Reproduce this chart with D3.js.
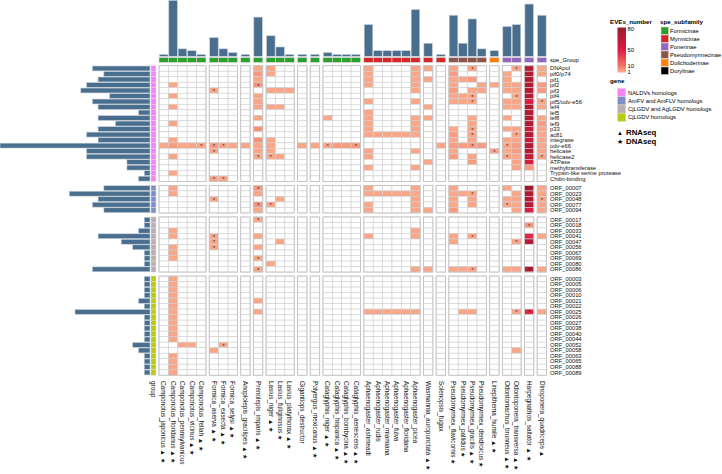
<!DOCTYPE html>
<html><head><meta charset="utf-8">
<script src="https://cdn.jsdelivr.net/npm/d3@7"></script>
<style>body{margin:0;background:#fff} svg{display:block;font-family:"Liberation Sans",Arial,sans-serif}</style>
</head><body><svg id="c" width="722" height="474"></svg>
<script>
// ---------------- DATA ----------------
const species = ["Camponotus_japonicus","Camponotus_floridanus","Camponotus_pennsylvanicus","Camponotus_vicinus","Camponotus_fellah",
 "Formica_aserva","Formica_exsecta","Formica_selysi","Anoplolepis_gracilipes","Prenolepis_imparis",
 "Lasius_niger","Lasius_fuliginosus","Lasius_platythorax","Gigantiops_destructor","Polyergus_mexicanus",
 "Cataglyphis_niger","Cataglyphis_hispanica","Cataglyphis_bombycina","Cataglyphis_aenescens",
 "Aphaenogaster_ashmeadi","Aphaenogaster_rudis","Aphaenogaster_miamiana","Aphaenogaster_fulva","Aphaenogaster_floridana","Aphaenogaster_picea",
 "Wasmannia_auropunctata","Solenopsis_fugax","Pseudomyrmex_flavicornis","Pseudomyrmex_pallidus","Pseudomyrmex_gracilis","Pseudomyrmex_dendroicus",
 "Linepithema_humile","Odontomachus_brunneus","Odontoponera_transversa","Harpegnathos_saltator","Dinoponera_quadriceps"];
const speciesMark = ["▲ ★","▲ ★","","▲ ★","▲ ★","▲ ★","▲ ★","▲ ★","▲ ★","▲ ★","▲ ★","★","▲ ★","","▲ ★",
 "▲ ★","▲ ★","▲ ★","▲ ★","","","","","","","▲ ★","","★","★","▲ ★","★","▲ ★","▲ ★","▲ ★","▲ ★","▲"];
const colSlice = [0,0,0,0,0,1,1,1,2,3,4,4,4,5,6,7,7,7,7,8,8,8,8,8,8,9,10,11,11,11,11,12,13,13,14,15];
const subfamily = ["Formicinae","Formicinae","Formicinae","Formicinae","Formicinae","Formicinae","Formicinae","Formicinae","Formicinae","Formicinae",
 "Formicinae","Formicinae","Formicinae","Formicinae","Formicinae","Formicinae","Formicinae","Formicinae","Formicinae",
 "Myrmicinae","Myrmicinae","Myrmicinae","Myrmicinae","Myrmicinae","Myrmicinae","Myrmicinae","Myrmicinae",
 "Pseudomyrmecinae","Pseudomyrmecinae","Pseudomyrmecinae","Pseudomyrmecinae","Dolichoderinae",
 "Ponerinae","Ponerinae","Ponerinae","Ponerinae"];
const speciesEVEs = [1,30,4,3,1,10,4,2,1,21,11,5,1,1,1,2,1,1,1,17,3,3,3,3,25,7,1,22,7,20,4,3,16,17,28,22];

const genes = ["DNApol","pif0/p74","pif1","pif2","pif3","pif4","pif5/odv-e56","lef4","lef5","lef8","lef9","p33","ac81","integrase","odv-e66","helicase","helicase2","ATPase","methyltransferase","Trypsin-like serine protease","Chitin-binding",
 "ORF_00007","ORF_00023","ORF_00048","ORF_00077","ORF_00094",
 "ORF_00017","ORF_00018","ORF_00033","ORF_00041","ORF_00047","ORF_00056","ORF_00067","ORF_00069","ORF_00080","ORF_00086",
 "ORF_00003","ORF_00005","ORF_00006","ORF_00010","ORF_00021","ORF_00022","ORF_00025","ORF_00026","ORF_00027","ORF_00038","ORF_00040","ORF_00044","ORF_00052","ORF_00058","ORF_00063","ORF_00065","ORF_00088","ORF_00089"];
const geneGroup = [].concat(Array(21).fill("NALDVs homologs"),Array(5).fill("AmFV and AmFLV homologs"),Array(10).fill("CjLGDV and AgLGDV homologs"),Array(18).fill("CjLGDV homologs"));
const geneSpecies = [10,8,9,11,12,7,10,9,2,9,6,9,11,9,26,11,11,4,4,1,2, 8,14,9,10,8, 1,1,2,9,5,3,1,1,1,10, 1,1,1,1,2,1,13,1,1,1,1,1,3,2,1,1,1,1];

// EVE numbers per gene (rows) x species (columns); 0 = none
//            Camponotus  Formica Ano Pre Lasius Gig Pol Catag.   Aphaenogaster  Was Sol Pseudomyrmex Lin Odo  Har Din
const eves = [
 /*DNApol*/  [0,0,0,0,0, 0,0,0, 0, 1, 1,0,0, 0, 0, 0,0,0,0, 1,0,0,0,0,1, 1, 0, 1,0,1,0, 0, 0,1, 70, 1],
 /*pif0*/    [0,0,0,0,0, 0,0,0, 0, 4, 1,0,0, 0, 0, 0,0,0,0, 1,0,0,0,0,1, 0, 0, 3,0,0,0, 0, 1,0, 70, 1],
 /*pif1*/    [0,0,0,0,0, 0,0,0, 0, 1, 0,0,0, 0, 0, 0,0,0,0, 1,0,0,0,0,1, 1, 0, 1,1,3,0, 0, 1,0, 70, 0],
 /*pif2*/    [0,1,0,0,0, 0,0,0, 0, 5, 0,0,0, 0, 0, 0,0,0,0, 1,0,0,0,0,1, 0, 0, 1,0,0,1, 1, 1,1, 70, 3],
 /*pif3*/    [0,0,0,0,0, 1,0,0, 0, 0, 1,1,1, 0, 0, 0,0,0,0, 0,0,0,0,0,1, 0, 0, 3,0,1,1, 0, 1,1, 70, 3],
 /*pif4*/    [0,1,0,0,0, 0,0,0, 0, 1, 0,0,0, 0, 0, 0,0,0,0, 0,0,0,0,0,0, 0, 0, 1,1,1,0, 0, 0,1, 70, 0],
 /*pif5*/    [0,0,0,0,0, 0,0,0, 0, 1, 0,0,0, 0, 0, 0,0,0,0, 1,0,0,0,0,1, 0, 0, 1,1,1,0, 0, 1,1, 50, 1],
 /*lef4*/    [0,1,0,0,0, 0,0,0, 0, 1, 1,1,0, 0, 0, 0,0,0,0, 0,0,0,0,0,0, 1, 0, 0,0,0,0, 0, 1,1, 70, 1],
 /*lef5*/    [0,0,0,0,0, 0,0,0, 0, 0, 0,0,0, 0, 0, 0,0,0,0, 1,0,0,0,0,0, 0, 0, 0,0,0,0, 0, 0,0, 70, 0],
 /*lef8*/    [0,0,0,0,0, 0,0,0, 0, 1, 0,0,0, 0, 0, 1,0,0,0, 1,0,0,0,0,1, 1, 0, 0,0,1,0, 0, 1,0, 70, 1],
 /*lef9*/    [0,1,0,0,0, 0,0,0, 0, 0, 0,0,0, 0, 0, 0,0,0,0, 1,0,0,0,0,1, 0, 0, 0,0,1,0, 0, 0,0, 70, 3],
 /*p33*/     [0,0,0,0,0, 0,0,0, 0, 5, 0,0,0, 0, 0, 0,0,0,0, 1,0,0,0,0,1, 0, 0, 1,0,1,0, 0, 1,1, 60, 1],
 /*ac81*/    [0,0,0,0,0, 0,0,0, 0, 0, 0,0,0, 0, 0, 0,0,0,0, 1,1,1,1,1,1, 0, 0, 3,0,1,0, 0, 0,1, 70, 1],
 /*integr*/  [0,1,0,0,0, 0,0,0, 0, 5, 1,0,0, 0, 0, 0,0,0,0, 0,0,0,0,0,0, 0, 0, 1,0,1,0, 0, 1,1, 60, 1],
 /*odv-e66*/ [1,3,1,1,1, 3,1,1, 1, 1, 1,0,0, 1, 1, 1,3,3,3, 0,0,0,0,0,0, 0, 1, 3,3,3,3, 0, 1,3, 70, 1],
 /*helic*/   [0,0,0,0,0, 1,0,0, 0, 1, 1,0,0, 0, 0, 0,0,0,0, 1,0,0,0,0,1, 0, 0, 1,0,0,0, 1, 1,3, 70, 1],
 /*helic2*/  [0,1,0,0,0, 0,0,0, 0, 1, 1,1,0, 0, 0, 0,0,0,0, 1,0,0,0,0,0, 0, 0, 3,0,1,0, 0, 1,1, 60, 1],
 /*ATPase*/  [0,0,0,0,0, 0,0,0, 0, 0, 0,0,0, 0, 0, 0,0,0,0, 0,0,0,0,0,0, 1, 0, 0,0,3,0, 0, 0,1, 50, 0],
 /*methyl*/  [0,0,0,0,0, 0,0,0, 0, 0, 0,0,0, 0, 0, 0,0,0,0, 1,0,0,0,0,1, 0, 0, 0,0,0,0, 0, 0,1, 3, 0],
 /*Trypsin*/ [0,1,0,0,0, 0,0,0, 0, 0, 0,0,0, 0, 0, 0,0,0,0, 0,0,0,0,0,0, 0, 0, 0,0,0,0, 0, 0,0, 0, 0],
 /*Chitin*/  [0,0,0,0,0, 1,1,0, 0, 0, 0,0,0, 0, 0, 0,0,0,0, 0,0,0,0,0,0, 0, 0, 0,0,0,0, 0, 0,0, 0, 0],
 /*00007*/   [0,1,0,0,0, 0,0,0, 0, 4, 0,0,0, 0, 0, 0,0,0,0, 1,0,0,0,0,1, 0, 0, 1,0,0,0, 0, 1,0, 80, 1],
 /*00023*/   [0,1,0,0,0, 0,0,0, 0, 1, 0,0,0, 0, 0, 0,0,0,0, 1,1,1,1,1,1, 0, 0, 1,1,1,0, 0, 0,1, 70, 1],
 /*00048*/   [0,0,0,0,0, 1,0,0, 0, 0, 0,1,0, 0, 0, 0,0,0,0, 0,0,0,0,0,1, 0, 0, 1,0,1,0, 0, 1,1, 70, 1],
 /*00077*/   [0,0,0,0,0, 0,0,0, 0, 5, 1,0,0, 0, 0, 0,0,0,0, 1,0,0,0,0,1, 0, 0, 1,0,1,0, 0, 1,1, 70, 1],
 /*00094*/   [0,0,0,0,0, 0,0,0, 0, 1, 0,0,0, 0, 0, 0,0,0,0, 1,0,0,0,0,1, 1, 0, 3,0,0,0, 0, 0,1, 50, 1],
 /*00017*/   [0,0,0,0,0, 0,0,0, 0, 1, 0,0,0, 0, 0, 0,0,0,0, 0,0,0,0,0,0, 0, 0, 0,0,0,0, 0, 0,0, 0, 0],
 /*00018*/   [0,0,0,0,0, 0,0,0, 0, 0, 0,0,0, 0, 0, 0,0,0,0, 0,0,0,0,0,0, 0, 0, 0,0,0,0, 0, 0,0, 4, 0],
 /*00033*/   [0,1,0,0,0, 0,0,0, 0, 0, 0,0,0, 0, 0, 0,0,0,0, 0,0,0,0,0,1, 0, 0, 0,0,0,0, 0, 0,0, 0, 0],
 /*00041*/   [0,1,0,0,0, 1,0,0, 0, 1, 0,0,0, 0, 0, 0,0,0,0, 1,0,0,0,0,1, 0, 0, 1,0,1,0, 0, 0,0, 45, 1],
 /*00047*/   [0,0,0,0,0, 1,0,0, 0, 0, 0,1,0, 0, 0, 0,0,0,0, 0,0,0,0,0,0, 0, 0, 1,0,0,0, 0, 0,1, 70, 0],
 /*00056*/   [0,1,0,0,0, 1,0,0, 0, 1, 0,0,0, 0, 0, 0,0,0,0, 0,0,0,0,0,0, 0, 0, 0,0,0,0, 0, 0,0, 0, 0],
 /*00067*/   [0,1,0,0,0, 0,0,0, 0, 0, 0,0,0, 0, 0, 0,0,0,0, 0,0,0,0,0,0, 0, 0, 0,0,0,0, 0, 0,0, 0, 0],
 /*00069*/   [0,1,0,0,0, 0,0,0, 0, 1, 0,0,0, 0, 0, 0,0,0,0, 0,0,0,0,0,0, 0, 0, 0,0,0,0, 0, 0,0, 0, 0],
 /*00080*/   [0,0,0,0,0, 0,0,0, 0, 0, 1,0,0, 0, 0, 0,0,0,0, 0,0,0,0,0,0, 0, 0, 0,0,0,0, 0, 0,0, 0, 0],
 /*00086*/   [0,0,0,0,0, 0,0,0, 0, 1, 0,0,0, 0, 0, 0,0,0,0, 0,0,0,0,0,1, 1, 0, 1,1,1,0, 0, 1,1, 70, 1],
 /*00003*/   [0,1,0,0,0, 0,0,0, 0, 0, 0,0,0, 0, 0, 0,0,0,0, 0,0,0,0,0,0, 0, 0, 0,0,0,0, 0, 0,0, 0, 0],
 /*00005*/   [0,1,0,0,0, 0,0,0, 0, 0, 0,0,0, 0, 0, 0,0,0,0, 0,0,0,0,0,0, 0, 0, 0,0,0,0, 0, 0,0, 0, 0],
 /*00006*/   [0,1,0,0,0, 0,0,0, 0, 0, 0,0,0, 0, 0, 0,0,0,0, 0,0,0,0,0,0, 0, 0, 0,0,0,0, 0, 0,0, 0, 0],
 /*00010*/   [0,1,0,0,0, 0,0,0, 0, 0, 0,0,0, 0, 0, 0,0,0,0, 0,0,0,0,0,0, 0, 0, 0,0,0,0, 0, 0,0, 0, 0],
 /*00021*/   [0,1,0,0,0, 0,0,0, 0, 1, 0,0,0, 0, 0, 0,0,0,0, 0,0,0,0,0,0, 0, 0, 0,0,0,0, 0, 0,0, 0, 0],
 /*00022*/   [0,1,0,0,0, 0,0,0, 0, 0, 0,0,0, 0, 0, 0,0,0,0, 0,0,0,0,0,0, 0, 0, 0,0,0,0, 0, 0,0, 0, 0],
 /*00025*/   [0,1,0,0,0, 0,0,0, 0, 1, 0,0,0, 0, 0, 0,0,0,0, 1,1,1,1,1,1, 0, 0, 0,1,1,0, 0, 0,1, 45, 1],
 /*00026*/   [0,1,0,0,0, 0,0,0, 0, 0, 0,0,0, 0, 0, 0,0,0,0, 0,0,0,0,0,0, 0, 0, 0,0,0,0, 0, 0,0, 0, 0],
 /*00027*/   [0,1,0,0,0, 0,0,0, 0, 0, 0,0,0, 0, 0, 0,0,0,0, 0,0,0,0,0,0, 0, 0, 0,0,0,0, 0, 0,0, 0, 0],
 /*00038*/   [0,1,0,0,0, 0,0,0, 0, 0, 0,0,0, 0, 0, 0,0,0,0, 0,0,0,0,0,0, 0, 0, 0,0,0,0, 0, 0,0, 0, 0],
 /*00040*/   [0,1,0,0,0, 0,0,0, 0, 0, 0,0,0, 0, 0, 0,0,0,0, 0,0,0,0,0,0, 0, 0, 0,0,0,0, 0, 0,0, 0, 0],
 /*00044*/   [0,1,0,0,0, 0,0,0, 0, 0, 0,0,0, 0, 0, 0,0,0,0, 0,0,0,0,0,0, 0, 0, 0,0,0,0, 0, 0,0, 0, 0],
 /*00052*/   [0,0,1,1,0, 0,1,0, 0, 0, 0,0,0, 0, 0, 0,0,0,0, 0,0,0,0,0,0, 0, 0, 0,0,0,0, 0, 0,0, 0, 0],
 /*00058*/   [0,0,0,0,0, 1,0,0, 0, 0, 0,0,0, 0, 0, 0,0,0,0, 0,0,0,0,0,0, 0, 0, 0,0,0,0, 0, 0,1, 0, 0],
 /*00063*/   [0,1,0,0,0, 0,0,0, 0, 0, 0,0,0, 0, 0, 0,0,0,0, 0,0,0,0,0,0, 0, 0, 0,0,0,0, 0, 0,0, 0, 0],
 /*00065*/   [0,1,0,0,0, 0,0,0, 0, 0, 0,0,0, 0, 0, 0,0,0,0, 0,0,0,0,0,0, 0, 0, 0,0,0,0, 0, 0,0, 0, 0],
 /*00088*/   [0,1,0,0,0, 0,0,0, 0, 0, 0,0,0, 0, 0, 0,0,0,0, 0,0,0,0,0,0, 0, 0, 0,0,0,0, 0, 0,0, 0, 0],
 /*00089*/   [0,1,0,0,0, 0,0,0, 0, 0, 0,0,0, 0, 0, 0,0,0,0, 0,0,0,0,0,0, 0, 0, 0,0,0,0, 0, 0,0, 0, 0]
];
// cells marked with "*": [gene, species]
const starred = [
 ["DNApol","Pseudomyrmex_gracilis"],["DNApol","Odontoponera_transversa"],["pif2","Prenolepis_imparis"],["pif3","Formica_aserva"],
 ["pif4","Pseudomyrmex_gracilis"],["pif4","Odontoponera_transversa"],["pif5/odv-e56","Pseudomyrmex_gracilis"],["pif5/odv-e56","Dinoponera_quadriceps"],
 ["p33","Pseudomyrmex_gracilis"],["ac81","Pseudomyrmex_gracilis"],["ac81","Odontoponera_transversa"],
 ["odv-e66","Camponotus_fellah"],["odv-e66","Formica_aserva"],["odv-e66","Formica_exsecta"],["odv-e66","Cataglyphis_niger"],["odv-e66","Cataglyphis_aenescens"],
 ["odv-e66","Pseudomyrmex_gracilis"],["odv-e66","Odontomachus_brunneus"],["helicase","Formica_aserva"],["helicase","Linepithema_humile"],
 ["helicase2","Prenolepis_imparis"],["helicase2","Lasius_niger"],["helicase2","Odontomachus_brunneus"],["helicase2","Dinoponera_quadriceps"],
 ["Chitin-binding","Formica_aserva"],["Chitin-binding","Formica_exsecta"],
 ["ORF_00007","Prenolepis_imparis"],["ORF_00023","Pseudomyrmex_gracilis"],["ORF_00048","Formica_aserva"],["ORF_00048","Dinoponera_quadriceps"],
 ["ORF_00077","Prenolepis_imparis"],["ORF_00077","Lasius_niger"],["ORF_00077","Odontomachus_brunneus"],
 ["ORF_00017","Prenolepis_imparis"],["ORF_00018","Harpegnathos_saltator"],["ORF_00041","Formica_aserva"],["ORF_00041","Pseudomyrmex_gracilis"],
 ["ORF_00047","Formica_aserva"],["ORF_00047","Odontoponera_transversa"],["ORF_00056","Formica_aserva"],["ORF_00069","Prenolepis_imparis"],
 ["ORF_00086","Prenolepis_imparis"],["ORF_00086","Pseudomyrmex_gracilis"],["ORF_00086","Harpegnathos_saltator"],
 ["ORF_00052","Formica_exsecta"],["ORF_00025","Odontoponera_transversa"],["ORF_00025","Harpegnathos_saltator"]
];
const subfamilies = ["Formicinae","Myrmicinae","Ponerinae","Pseudomyrmecinae","Dolichoderinae","Dorylinae"];
const subfamilyColors = ["#2CA02C","#D62728","#9467BD","#8C564B","#FF7F0E","#000000"];
const geneGroups = ["NALDVs homologs","AmFV and AmFLV homologs","CjLGDV and AgLGDV homologs","CjLGDV homologs"];
const geneGroupColors = ["#F584F5","#7F8FC9","#BBAFB1","#B7CC12"];
const legendBreaks = [1,10,50,80];
const legendColors = ["#FAA689","#F37865","#DB1B43","#A11A2C"];

// ---------------- LAYOUT ----------------
const svg = d3.select("#c");
const X0 = 159, CW = 9.39, CG = 3.3;
const Y0 = 65.7, RH = 5.51, RG = 4.0;
const GRID = "#cfcfcf", BAR = "#4A6E8E";

const colX = species.map((s,i)=> X0 + i*CW + colSlice[i]*CG);
const x = d3.scaleOrdinal().domain(species).range(colX);
const rowSliceIdx = geneGroup.map(g=>geneGroups.indexOf(g));
const rowY = genes.map((g,i)=> Y0 + i*RH + rowSliceIdx[i]*RG);
const y = d3.scaleOrdinal().domain(genes).range(rowY);

const heat = d3.scaleLinear().domain(legendBreaks).range(legendColors).clamp(true);
const subCol = d3.scaleOrdinal().domain(subfamilies).range(subfamilyColors);
const grpCol = d3.scaleOrdinal().domain(geneGroups).range(geneGroupColors);

// top barplot
const yTop = d3.scaleLinear().domain([0, d3.max(speciesEVEs)]).range([56.3, 0.3]);
svg.append("g").selectAll("rect").data(species).join("rect")
  .attr("x", d=>x(d)+0.4).attr("width", CW-0.8)
  .attr("y", (d,i)=>yTop(speciesEVEs[i])).attr("height",(d,i)=>yTop(0)-yTop(speciesEVEs[i]))
  .attr("fill", BAR).attr("stroke","#c9d3dc").attr("stroke-width",0.6);

// spe_Group annotation
svg.append("g").selectAll("rect").data(species).join("rect")
  .attr("x", d=>x(d)).attr("width", CW).attr("y", 57.6).attr("height", 4.8)
  .attr("fill",(d,i)=>subCol(subfamily[i])).attr("stroke","#d8d8d8").attr("stroke-width",0.6);
svg.append("text").attr("x",550).attr("y",62.2).attr("font-size",5.8).text("spe_Group");

// heatmap cells
const cells = [];
genes.forEach((g,r)=>species.forEach((s,c)=>cells.push({g,s,v:eves[r][c]})));
svg.append("g").selectAll("rect").data(cells).join("rect")
  .attr("x", d=>x(d.s)).attr("y", d=>y(d.g)).attr("width", CW).attr("height", RH)
  .attr("fill", d=> d.v>0 ? heat(d.v) : "#ffffff")
  .attr("stroke", GRID).attr("stroke-width", 0.6);

// slice borders
const colSlices = d3.groups(species.map((s,i)=>({s,k:colSlice[i]})), d=>d.k);
const rowSlices = d3.groups(genes.map((g,i)=>({g,k:rowSliceIdx[i]})), d=>d.k);
const borders = svg.append("g");
rowSlices.forEach(([rk,rs])=>colSlices.forEach(([ck,cs])=>{
  borders.append("rect").attr("x", x(cs[0].s)).attr("y", y(rs[0].g))
    .attr("width", cs.length*CW).attr("height", rs.length*RH)
    .attr("fill","none").attr("stroke","#c4c4c4").attr("stroke-width",0.9);
}));

// stars
svg.append("g").selectAll("text").data(starred).join("text")
  .attr("x", d=>x(d[1])+CW/2).attr("y", d=>y(d[0])+RH/2+2.6)
  .attr("text-anchor","middle").attr("font-size",6).attr("fill","#333").text("*");

// left group strip
svg.append("g").selectAll("rect").data(genes).join("rect")
  .attr("x", 151).attr("width", 5).attr("y", d=>y(d)).attr("height", RH)
  .attr("fill",(d,i)=>grpCol(geneGroup[i])).attr("stroke","#dddddd").attr("stroke-width",0.5);

// left barplot
const xLeft = d3.scaleLinear().domain([0, d3.max(geneSpecies)]).range([150, 0]);
svg.append("g").selectAll("rect").data(genes).join("rect")
  .attr("y", d=>y(d)+0.3).attr("height", RH-0.6)
  .attr("x",(d,i)=>xLeft(geneSpecies[i])).attr("width",(d,i)=>xLeft(0)-xLeft(geneSpecies[i]))
  .attr("fill", BAR).attr("stroke","#c9d3dc").attr("stroke-width",0.6);

// row labels
svg.append("g").selectAll("text").data(genes).join("text")
  .attr("x", 550).attr("y", d=>y(d)+RH/2).attr("dy","0.35em")
  .attr("font-size",5.8).attr("fill","#111").text(d=>d);

// column labels
svg.append("g").selectAll("text").data(species).join("text")
  .attr("transform",(d)=>`translate(${x(d)+CW/2},381) rotate(90)`)
  .attr("dy","0.35em").attr("font-size",6.4).attr("fill","#111")
  .text((d,i)=> speciesMark[i] ? d+" "+speciesMark[i] : d);
svg.append("text").attr("transform","translate(153.5,381) rotate(90)")
  .attr("dy","0.35em").attr("font-size",6.4).attr("fill","#111").text("group");

// ---------------- LEGENDS ----------------
const lg = svg.append("g");
lg.append("text").attr("x",610).attr("y",24).attr("font-size",6.2).attr("font-weight","bold").text("EVEs_number");
const ly = d3.scaleOrdinal().domain(legendBreaks).range([71.5,66,50,28.5]);
const grad = svg.append("defs").append("linearGradient").attr("id","eg").attr("x1",0).attr("y1",1).attr("x2",0).attr("y2",0);
legendBreaks.forEach(v=>grad.append("stop").attr("offset",(72.5-ly(v))/45).attr("stop-color",heat(v)));
lg.append("rect").attr("x",617.5).attr("y",27.5).attr("width",8.5).attr("height",45).attr("fill","url(#eg)");
lg.selectAll("text.t").data(legendBreaks).join("text").attr("class","t")
  .attr("x",627.5).attr("y",v=>ly(v)).attr("dy","0.35em").attr("font-size",5.8).text(v=>v);

lg.append("text").attr("x",660).attr("y",24).attr("font-size",6.2).attr("font-weight","bold").text("spe_subfamily");
subfamilies.forEach((s,i)=>{
  lg.append("rect").attr("x",661).attr("y",27+i*8).attr("width",7.5).attr("height",7.5).attr("fill",subCol(s)).attr("stroke","#ddd").attr("stroke-width",0.5);
  lg.append("text").attr("x",670).attr("y",31+i*8).attr("dy","0.35em").attr("font-size",5.8).text(s);
});

lg.append("text").attr("x",610).attr("y",83).attr("font-size",6.2).attr("font-weight","bold").text("gene");
geneGroups.forEach((g,i)=>{
  lg.append("rect").attr("x",617.5).attr("y",88.3+i*8.3).attr("width",8.3).attr("height",8.3).attr("fill",grpCol(g)).attr("stroke","#ddd").attr("stroke-width",0.5);
  lg.append("text").attr("x",628).attr("y",92.5+i*8.3).attr("dy","0.35em").attr("font-size",5.8).text(g);
});
lg.append("text").attr("x",617).attr("y",134.5).attr("font-size",6).text("▲");
lg.append("text").attr("x",626).attr("y",135).attr("font-size",7.8).attr("font-weight","bold").text("RNAseq");
lg.append("text").attr("x",617).attr("y",143.5).attr("font-size",7).text("★");
lg.append("text").attr("x",626).attr("y",143.5).attr("font-size",7.8).attr("font-weight","bold").text("DNAseq");
</script></body></html>
